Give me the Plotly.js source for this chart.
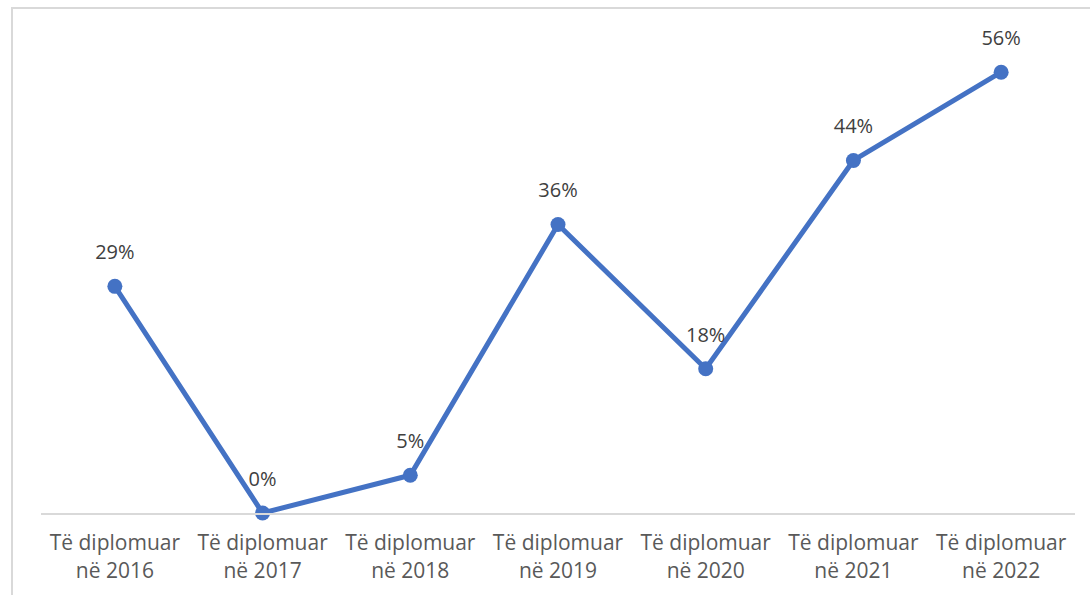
<!DOCTYPE html>
<html>
<head>
<meta charset="utf-8">
<script src="https://cdn.plot.ly/plotly-3.0.1.min.js"></script>
<style>
  html, body { margin: 0; padding: 0; background: #ffffff; }
  #wrap { position: relative; width: 1090px; height: 595px; overflow: hidden; }
  #chart { position: absolute; left: 0; top: 0; width: 1090px; height: 595px; }
  #frame { position: absolute; left: 11px; top: 7px; width: 1100px; height: 600px;
           border-left: 2px solid #d9d9d9; border-top: 2px solid #d9d9d9; pointer-events: none; }
</style>
</head>
<body>
<div id="wrap">
  <div id="chart"></div>
  <div id="frame"></div>
</div>
<script>
const categories = [
  "Të diplomuar<br>në 2016",
  "Të diplomuar<br>në 2017",
  "Të diplomuar<br>në 2018",
  "Të diplomuar<br>në 2019",
  "Të diplomuar<br>në 2020",
  "Të diplomuar<br>në 2021",
  "Të diplomuar<br>në 2022"
];
const values = [0.2857, 0.0, 0.0476, 0.3636, 0.1818, 0.4444, 0.5556];
const labels = values.map(v => Math.round(v * 100) + "%");

const lineTrace = {
  x: categories,
  y: values,
  type: "scatter",
  mode: "lines+markers",
  line: { color: "#4472C4", width: 5 },
  marker: { color: "#4472C4", size: 15 },
  cliponaxis: false,
  hoverinfo: "skip"
};

const labelTrace = {
  x: categories,
  y: values,
  type: "scatter",
  mode: "markers+text",
  text: labels,
  textposition: "top center",
  textfont: { family: "Open Sans, Noto Sans, sans-serif", size: 20, color: "#404040" },
  marker: { color: "rgba(0,0,0,0)", size: 34 },
  cliponaxis: false,
  hoverinfo: "skip"
};

const layout = {
  width: 1090,
  height: 595,
  margin: { l: 41, r: 15, t: 37, b: 82 },
  paper_bgcolor: "#ffffff",
  plot_bgcolor: "#ffffff",
  showlegend: false,
  font: { family: "Open Sans, Noto Sans, sans-serif", color: "#595959" },
  xaxis: {
    type: "category",
    range: [-0.5, 6.5],
    showgrid: false,
    zeroline: false,
    showline: true,
    linecolor: "#d9d9d9",
    linewidth: 2,
    ticks: "",
    tickfont: { family: "Open Sans, Noto Sans, sans-serif", size: 21, color: "#595959" },
    ticklabelstandoff: 10
  },
  yaxis: {
    range: [0, 0.6],
    showgrid: false,
    zeroline: false,
    showline: false,
    showticklabels: false,
    ticks: ""
  }
};

Plotly.newPlot("chart", [lineTrace, labelTrace], layout, { displayModeBar: false, staticPlot: true });
</script>
</body>
</html>
